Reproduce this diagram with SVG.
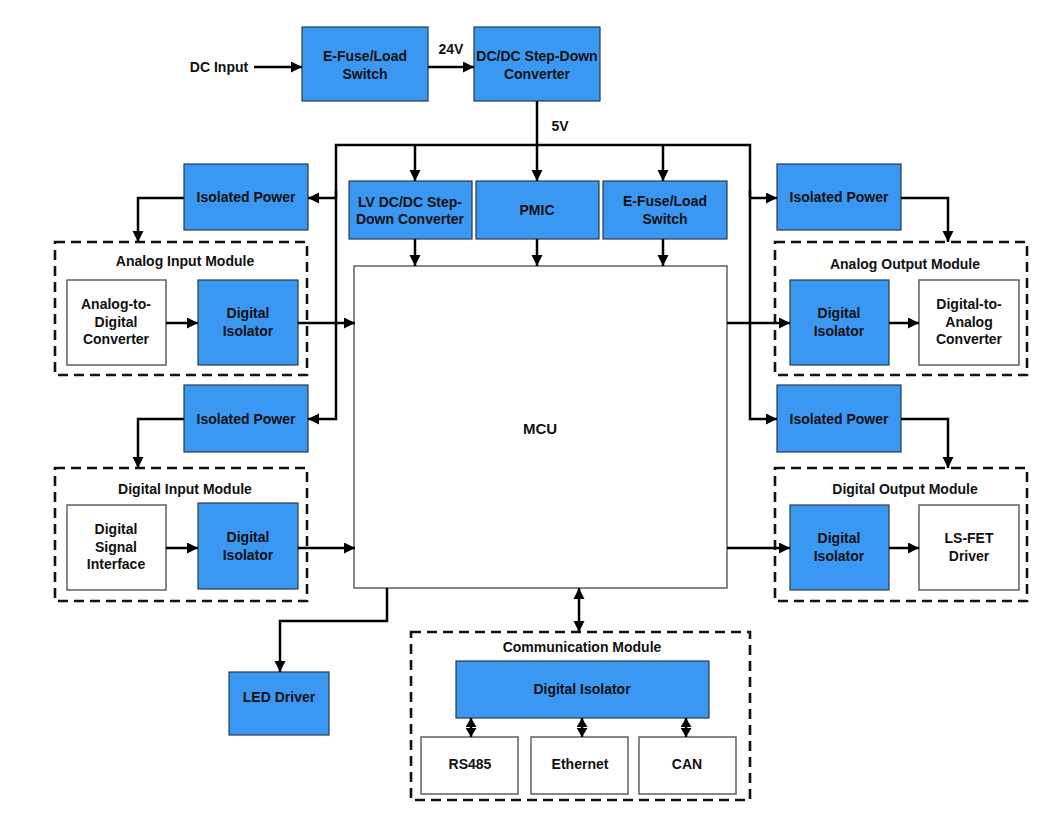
<svg xmlns="http://www.w3.org/2000/svg" width="1047" height="819" viewBox="0 0 1047 819">
<style>
.b{fill:#3a98f2;stroke:#2a3a4a;stroke-width:1.2}
.w{fill:#fff;stroke:#555;stroke-width:1.4}
.d{fill:none;stroke:#111;stroke-width:2.6;stroke-dasharray:10 6}
.t{font-family:"Liberation Sans",Arial,sans-serif;font-weight:bold;font-size:14px;fill:#111;text-anchor:middle;dominant-baseline:central}
.c{fill:none;stroke:#000;stroke-width:2.5}
</style>
<defs>
<marker id="a" markerUnits="userSpaceOnUse" markerWidth="12" markerHeight="12" refX="11" refY="5.5" orient="auto"><path d="M0,0 L11,5.5 L0,11 z" fill="#000"/></marker>
<marker id="as" markerUnits="userSpaceOnUse" markerWidth="12" markerHeight="12" refX="0" refY="5.5" orient="auto"><path d="M11,0 L0,5.5 L11,11 z" fill="#000"/></marker>
<marker id="s" markerUnits="userSpaceOnUse" markerWidth="10" markerHeight="11" refX="9" refY="5.5" orient="auto"><path d="M0,0 L9,5.5 L0,11 z" fill="#000"/></marker>
<marker id="ss" markerUnits="userSpaceOnUse" markerWidth="10" markerHeight="11" refX="0" refY="5.5" orient="auto"><path d="M9,0 L0,5.5 L9,11 z" fill="#000"/></marker>
</defs>
<rect width="1047" height="819" fill="#fff"/>

<g id="labels">
<text class="t" x="219" y="67">DC Input</text>
<text class="t" x="451" y="49">24V</text>
<text class="t" x="560" y="126">5V</text>
</g>

<g id="efuse1"><rect class="b" x="302" y="27" width="126" height="74"/><text class="t" x="365" y="56">E-Fuse/Load</text><text class="t" x="365" y="74">Switch</text></g>
<g id="dcdc"><rect class="b" x="474" y="27" width="126" height="74"/><text class="t" x="537" y="56">DC/DC Step-Down</text><text class="t" x="537" y="74">Converter</text></g>
<g id="lvdcdc"><rect class="b" x="349" y="181" width="123" height="58"/><text class="t" x="410" y="202">LV DC/DC Step-</text><text class="t" x="410" y="219">Down Converter</text></g>
<g id="pmic"><rect class="b" x="476" y="181" width="123" height="58"/><text class="t" x="537" y="210">PMIC</text></g>
<g id="efuse2"><rect class="b" x="603" y="181" width="124" height="58"/><text class="t" x="665" y="201">E-Fuse/Load</text><text class="t" x="665" y="219">Switch</text></g>
<g id="mcu"><rect class="w" x="354" y="266" width="373" height="322" stroke="#333"/><text class="t" x="540" y="428" style="font-size:15px">MCU</text></g>

<g id="isopow1"><rect class="b" x="184" y="164" width="124" height="66"/><text class="t" x="246" y="197">Isolated Power</text></g>
<g id="isopow2"><rect class="b" x="184" y="385" width="124" height="67"/><text class="t" x="246" y="419">Isolated Power</text></g>
<g id="isopow3"><rect class="b" x="777" y="164" width="124" height="66"/><text class="t" x="839" y="197">Isolated Power</text></g>
<g id="isopow4"><rect class="b" x="777" y="385" width="124" height="67"/><text class="t" x="839" y="419">Isolated Power</text></g>

<g id="analog-input-module">
<rect class="d" x="55" y="242" width="252" height="133"/>
<text class="t" x="185" y="261">Analog Input Module</text>
<rect class="w" x="67" y="280" width="99" height="85"/>
<text class="t" x="116" y="304">Analog-to-</text><text class="t" x="116" y="322">Digital</text><text class="t" x="116" y="339">Converter</text>
<rect class="b" x="198" y="280" width="100" height="85"/>
<text class="t" x="248" y="313">Digital</text><text class="t" x="248" y="331">Isolator</text>
</g>

<g id="digital-input-module">
<rect class="d" x="55" y="468" width="252" height="133"/>
<text class="t" x="185" y="489">Digital Input Module</text>
<rect class="w" x="67" y="505" width="99" height="85"/>
<text class="t" x="116" y="529">Digital</text><text class="t" x="116" y="547">Signal</text><text class="t" x="116" y="564">Interface</text>
<rect class="b" x="198" y="503" width="100" height="86"/>
<text class="t" x="248" y="537">Digital</text><text class="t" x="248" y="555">Isolator</text>
</g>

<g id="analog-output-module">
<rect class="d" x="775" y="242" width="252" height="133"/>
<text class="t" x="905" y="264">Analog Output Module</text>
<rect class="b" x="790" y="280" width="99" height="85"/>
<text class="t" x="839" y="313">Digital</text><text class="t" x="839" y="331">Isolator</text>
<rect class="w" x="919" y="280" width="100" height="85"/>
<text class="t" x="969" y="304">Digital-to-</text><text class="t" x="969" y="322">Analog</text><text class="t" x="969" y="339">Converter</text>
</g>

<g id="digital-output-module">
<rect class="d" x="775" y="468" width="252" height="133"/>
<text class="t" x="905" y="489">Digital Output Module</text>
<rect class="b" x="790" y="505" width="99" height="85"/>
<text class="t" x="839" y="538">Digital</text><text class="t" x="839" y="556">Isolator</text>
<rect class="w" x="919" y="505" width="100" height="85"/>
<text class="t" x="969" y="538">LS-FET</text><text class="t" x="969" y="556">Driver</text>
</g>

<g id="led-driver"><rect class="b" x="229" y="672" width="100" height="63"/><text class="t" x="279" y="697">LED Driver</text></g>

<g id="communication-module">
<rect class="d" x="411" y="632" width="339" height="168"/>
<text class="t" x="582" y="647">Communication Module</text>
<rect class="b" x="456" y="661" width="253" height="57"/>
<text class="t" x="582" y="689">Digital Isolator</text>
<rect class="w" x="421" y="737" width="97" height="57"/><text class="t" x="470" y="764">RS485</text>
<rect class="w" x="531" y="737" width="97" height="57"/><text class="t" x="580" y="764">Ethernet</text>
<rect class="w" x="639" y="737" width="97" height="57"/><text class="t" x="687" y="764">CAN</text>
</g>

<g id="connectors">
<line class="c" x1="254" y1="67" x2="302" y2="67" marker-end="url(#a)"/>
<line class="c" x1="428" y1="67" x2="474" y2="67" marker-end="url(#a)"/>
<line class="c" x1="537" y1="101" x2="537" y2="181" marker-end="url(#a)"/>
<polyline class="c" points="336,198 336,145 750,145 750,198"/>
<line class="c" x1="415" y1="145" x2="415" y2="181" marker-end="url(#a)"/>
<line class="c" x1="663" y1="145" x2="663" y2="181" marker-end="url(#a)"/>
<line class="c" x1="415" y1="239" x2="415" y2="266" marker-end="url(#a)"/>
<line class="c" x1="537" y1="239" x2="537" y2="266" marker-end="url(#a)"/>
<line class="c" x1="663" y1="239" x2="663" y2="266" marker-end="url(#a)"/>
<line class="c" x1="337" y1="198" x2="308" y2="198" marker-end="url(#a)"/>
<polyline class="c" points="336,190 336,419 308,419" marker-end="url(#a)"/>
<line class="c" x1="749" y1="198" x2="777" y2="198" marker-end="url(#a)"/>
<polyline class="c" points="750,190 750,419 777,419" marker-end="url(#a)"/>
<polyline class="c" points="184,198 138,198 138,242" marker-end="url(#a)"/>
<polyline class="c" points="184,419 138,419 138,468" marker-end="url(#a)"/>
<polyline class="c" points="901,198 948,198 948,242" marker-end="url(#a)"/>
<polyline class="c" points="901,419 948,419 948,468" marker-end="url(#a)"/>
<line class="c" x1="166" y1="323" x2="198" y2="323" marker-end="url(#a)"/>
<line class="c" x1="298" y1="323" x2="355" y2="323" marker-end="url(#a)"/>
<line class="c" x1="166" y1="548" x2="198" y2="548" marker-end="url(#a)"/>
<line class="c" x1="298" y1="548" x2="355" y2="548" marker-end="url(#a)"/>
<line class="c" x1="727" y1="323" x2="790" y2="323" marker-end="url(#a)"/>
<line class="c" x1="889" y1="323" x2="919" y2="323" marker-end="url(#a)"/>
<line class="c" x1="727" y1="548" x2="790" y2="548" marker-end="url(#a)"/>
<line class="c" x1="889" y1="548" x2="919" y2="548" marker-end="url(#a)"/>
<polyline class="c" points="387,588 387,621 280,621 280,672" marker-end="url(#a)"/>
<line class="c" x1="579" y1="588" x2="579" y2="632" marker-start="url(#as)" marker-end="url(#a)"/>
<line class="c" x1="471" y1="718" x2="471" y2="737" marker-start="url(#ss)" marker-end="url(#s)"/>
<line class="c" x1="582" y1="718" x2="582" y2="737" marker-start="url(#ss)" marker-end="url(#s)"/>
<line class="c" x1="686" y1="718" x2="686" y2="737" marker-start="url(#ss)" marker-end="url(#s)"/>
</g>
</svg>
